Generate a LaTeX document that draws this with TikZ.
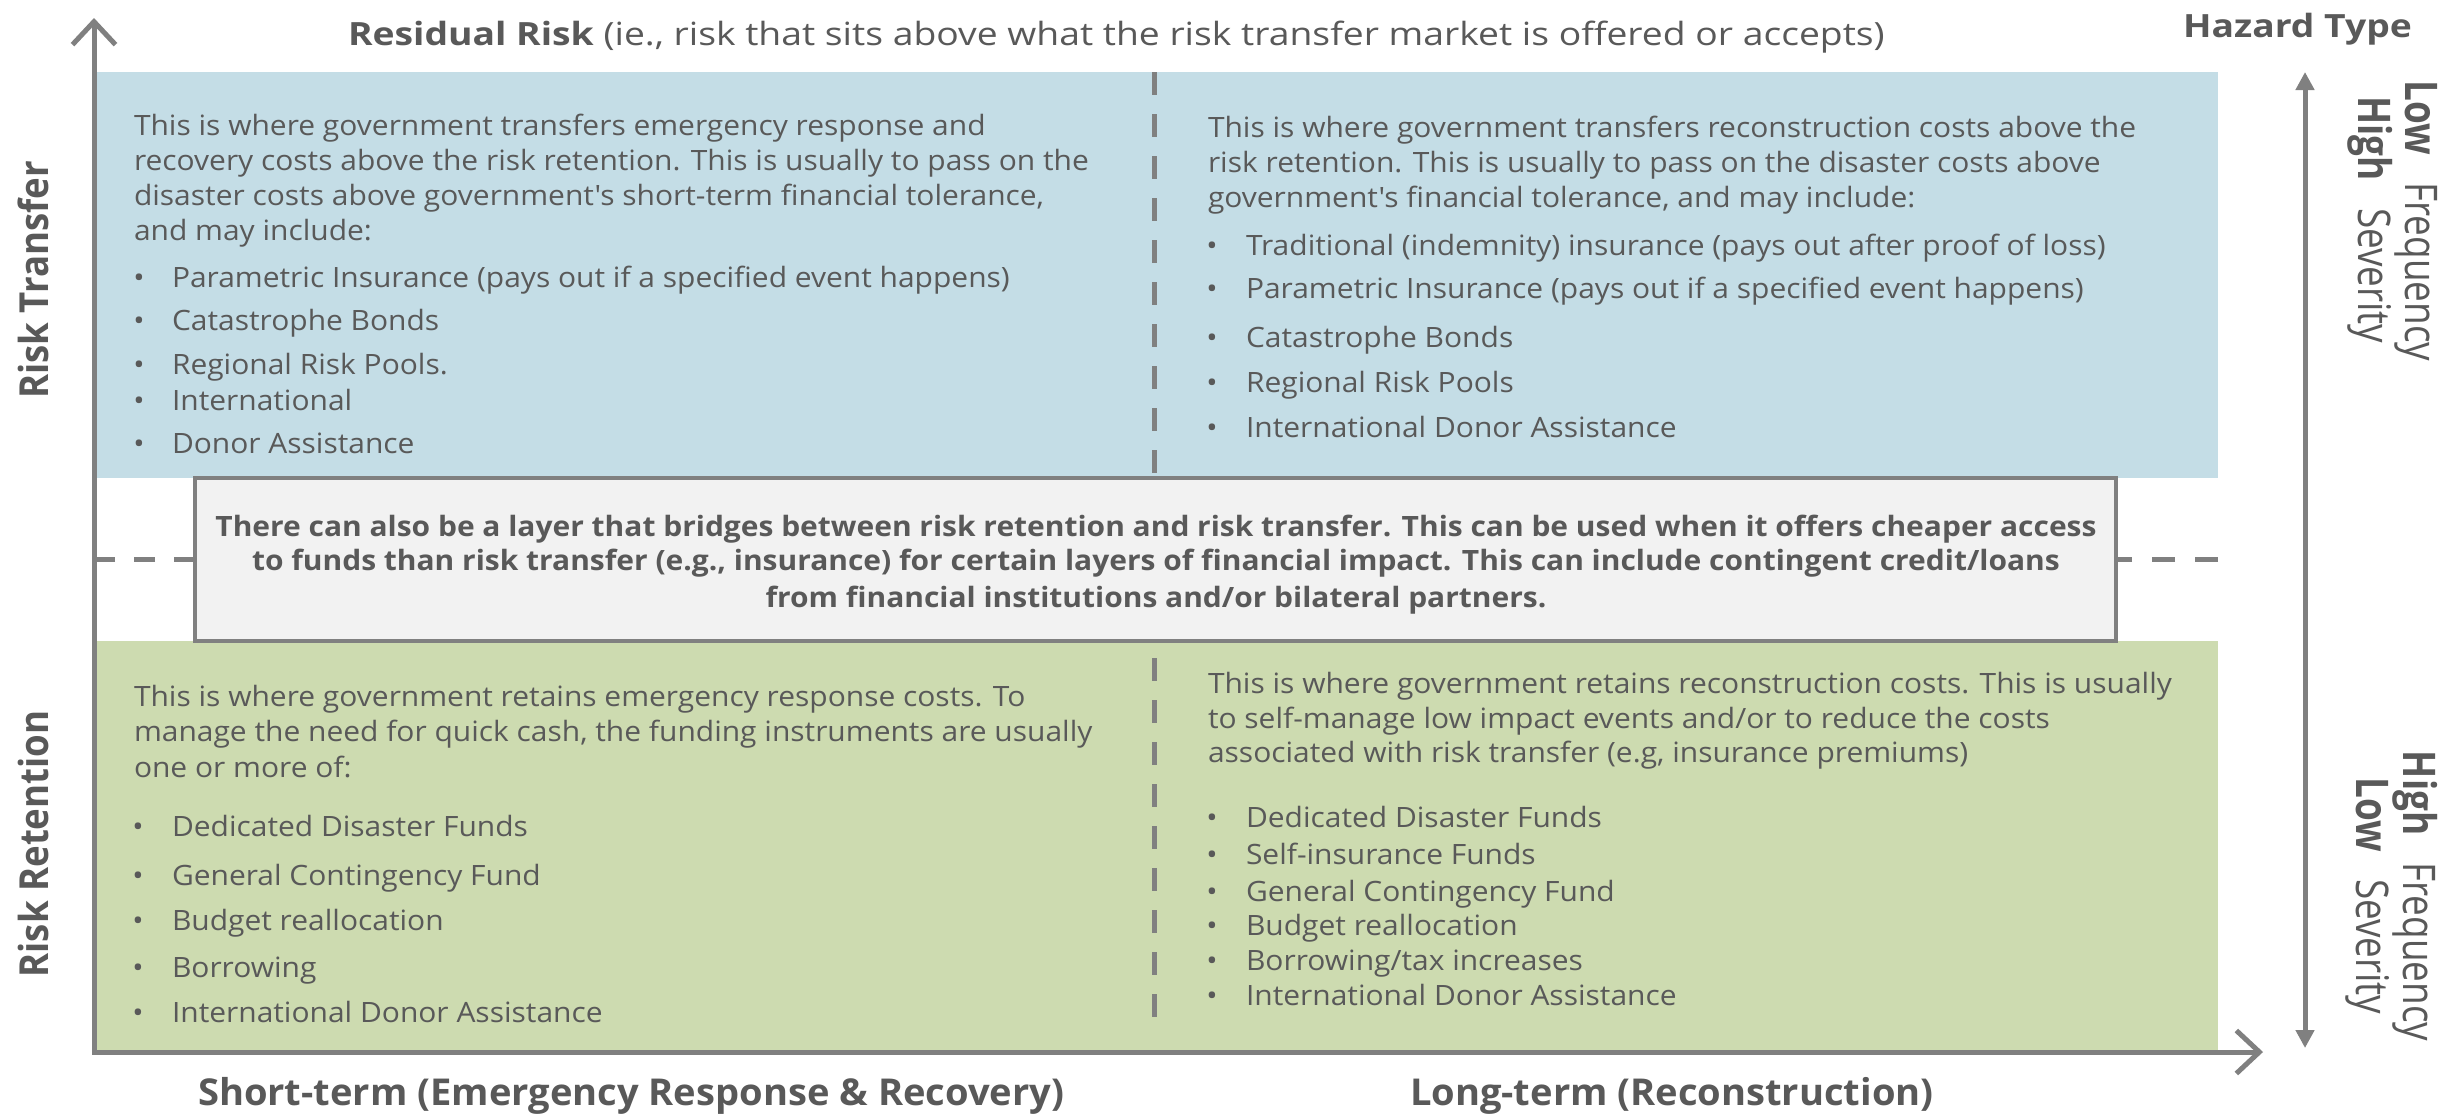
\documentclass[tikz,border=0pt]{standalone}
\usepackage{fontspec}
\setmainfont{Open Sans}
\newfontfamily\bodyfont[FakeStretch=1.07]{Open Sans}
\newfontfamily\titlefont[FakeStretch=1.165]{Open Sans}
\newfontfamily\labfont[FakeStretch=1.03]{Open Sans}
\usetikzlibrary{arrows.meta}
\definecolor{txt}{HTML}{595959}
\definecolor{axisgray}{HTML}{808080}
\definecolor{bluefill}{HTML}{C4DDE6}
\definecolor{greenfill}{HTML}{CDDBB0}
\definecolor{midfill}{HTML}{F2F2F2}
\tikzset{
  body/.style={anchor=mid west, inner sep=0, outer sep=0, yshift=-5.5pt, text=txt, font=\bodyfont\fontsize{28}{34}\selectfont},
  bul/.style={anchor=mid, inner sep=0, outer sep=0, yshift=-5.5pt, text=txt, font=\bodyfont\fontsize{28}{34}\selectfont},
  bridgetxt/.style={anchor=mid, inner sep=0, outer sep=0, yshift=-5.5pt, text=txt, font=\bodyfont\bfseries\fontsize{28}{34}\selectfont},
  toptitle/.style={anchor=base west, inner sep=0, outer sep=0, text=txt, font=\titlefont\fontsize{32}{38}\selectfont},
  axislab/.style={anchor=base west, inner sep=0, outer sep=0, text=txt, font=\labfont\bfseries\fontsize{37}{44}\selectfont},
  sidelab/.style={rotate=90, anchor=base, inner sep=0, outer sep=0, text=txt, font=\bfseries\fontsize{40}{40}\selectfont},
  hazlab/.style={rotate=-90, anchor=base, inner sep=0, outer sep=0, text=txt, font=\fontsize{45}{45}\selectfont},
  panel/.style={anchor=north west, inner sep=0, outer sep=0, draw=none},
  dashline/.style={draw=axisgray, line width=5pt},
  axisline/.style={draw=axisgray, line width=5pt, line join=miter},
}
\newcommand{\sq}[1]{\scalebox{0.82}[1]{#1}}
\newcommand{\sr}[1]{\scalebox{0.915}[1]{#1}}
\begin{document}
\begin{tikzpicture}[x=1pt,y=-1pt]
\useasboundingbox (0,0) rectangle (2451,1114);
\fill[white] (0,0) rectangle (2451,1114);

% panels
\node[panel, fill=bluefill, minimum width=2124pt, minimum height=406pt] (transfer) at (94,72) {};
\node[panel, fill=greenfill, minimum width=2124pt, minimum height=411pt] (retention) at (94,641) {};

% vertical dashed separators
\coordinate (vt1) at (1154,72);
\coordinate (vt2) at (1154,478);
\coordinate (vb1) at (1154,658);
\coordinate (vb2) at (1154,1019);
\draw[dashline, dash pattern=on 23pt off 19pt] (vt1) -- (vt2);
\draw[dashline, dash pattern=on 23pt off 19pt] (vb1) -- (vb2);

% bridge box
\node[draw=axisgray, line width=4pt, fill=midfill, inner sep=0, outer sep=0,
      minimum width=1921pt, minimum height=163pt] (bridge) at (1155.5,559.5) {};
\coordinate (hl) at (94,559.5);
\coordinate (hr) at (2218,559.5);
\draw[dashline, dash pattern=on 21pt off 19pt] (bridge.west) -- (hl);
\draw[dashline, dash pattern=on 23pt off 20pt] (hr) -- (bridge.east);

% axes
\coordinate (ytop) at (94,18);
\coordinate (origin) at (94,1052);
\coordinate (xend) at (2263,1052);
\draw[axisline, {Straight Barb[length=23pt,width=43pt]}-{Straight Barb[length=23pt,width=43pt]}] (ytop) -- (origin) -- (xend);

% hazard arrow
\coordinate (htop) at (2305,72);
\coordinate (hbot) at (2305,1048);
\draw[draw=axisgray, line width=5pt, {Triangle[length=18pt,width=18pt]}-{Triangle[length=18pt,width=18pt]}] (htop) -- (hbot);

% titles
\node[toptitle] (title) at (348,45) {\textbf{Residual Risk} (ie., risk that sits above what the risk transfer market is offered or accepts)};
\node[toptitle] (hazard) at (2183,37) {\bfseries Hazard Type};
\node[axislab] (shortterm) at (198,1105) {Short-term (Emergency Response \& Recovery)};
\node[axislab] (longterm) at (1410,1105) {Long-term (Reconstruction)};

% side labels
\node[sidelab] (rtlab) at (48,280) {\sr{Risk Transfer}};
\node[sidelab] (rrlab) at (48,844) {\sr{Risk Retention}};

\node[hazlab] (lf1) at (2405,221) {\sq{\bfseries Low}\hspace{27pt}\sq{Frequency}};
\node[hazlab] (hs1) at (2358,220) {\sq{\bfseries High}\hspace{27pt}\sq{Severity}};
\node[hazlab] (hf2) at (2403,896) {\sq{\bfseries High}\hspace{27pt}\sq{Frequency}};
\node[hazlab] (ls2) at (2356,896) {\sq{\bfseries Low}\hspace{27pt}\sq{Severity}};

% top-left text
\node[body] (tl1) at (134,127) {This is where government transfers emergency response and};
\node[body] (tl2) at (134,162) {recovery costs above the risk retention. This is usually to pass on the};
\node[body] (tl3) at (134,197) {disaster costs above government's short-term financial tolerance,};
\node[body] (tl4) at (134,232) {and may include:};
\foreach \yy/\tt [count=\i] in {279/{Parametric Insurance (pays out if a specified event happens)},
  322/{Catastrophe Bonds}, 366/{Regional Risk Pools.}, 402/{International}, 445/{Donor Assistance}}{
  \node[bul] (tlb\i) at (139,\yy) {•};
  \node[body] (tlt\i) at (172,\yy) {\tt};
}

% top-right text
\node[body] (tr1) at (1208,129) {This is where government transfers reconstruction costs above the};
\node[body] (tr2) at (1208,164) {risk retention. This is usually to pass on the disaster costs above};
\node[body] (tr3) at (1208,199) {government's financial tolerance, and may include:};
\foreach \yy/\tt [count=\i] in {247/{Traditional (indemnity) insurance (pays out after proof of loss)},
  290/{Parametric Insurance (pays out if a specified event happens)},
  339/{Catastrophe Bonds}, 384/{Regional Risk Pools}, 429/{International Donor Assistance}}{
  \node[bul] (trb\i) at (1212,\yy) {•};
  \node[body] (trt\i) at (1246,\yy) {\tt};
}

% bridge text
\node[bridgetxt] (br1) at (1156,528) {There can also be a layer that bridges between risk retention and risk transfer. This can be used when it offers cheaper access};
\node[bridgetxt] (br2) at (1156,562) {to funds than risk transfer (e.g., insurance) for certain layers of financial impact. This can include contingent credit/loans};
\node[bridgetxt] (br3) at (1156,599) {from financial institutions and/or bilateral partners.};

% bottom-left text
\node[body] (bl1) at (134,698) {This is where government retains emergency response costs. To};
\node[body] (bl2) at (134,733) {manage the need for quick cash, the funding instruments are usually};
\node[body] (bl3) at (134,769) {one or more of:};
\foreach \yy/\tt [count=\i] in {828/{Dedicated Disaster Funds}, 877/{General Contingency Fund},
  922/{Budget reallocation}, 969/{Borrowing}, 1014/{International Donor Assistance}}{
  \node[bul] (blb\i) at (138,\yy) {•};
  \node[body] (blt\i) at (172,\yy) {\tt};
}

% bottom-right text
\node[body] (rb1) at (1208,685) {This is where government retains reconstruction costs. This is usually};
\node[body] (rb2) at (1208,720) {to self-manage low impact events and/or to reduce the costs};
\node[body] (rb3) at (1208,754) {associated with risk transfer (e.g, insurance premiums)};
\foreach \yy/\tt [count=\i] in {819/{Dedicated Disaster Funds}, 856/{Self-insurance Funds},
  893/{General Contingency Fund}, 927/{Budget reallocation}, 962/{Borrowing/tax increases},
  997/{International Donor Assistance}}{
  \node[bul] (rbb\i) at (1212,\yy) {•};
  \node[body] (rbt\i) at (1246,\yy) {\tt};
}
\end{tikzpicture}
\end{document}
